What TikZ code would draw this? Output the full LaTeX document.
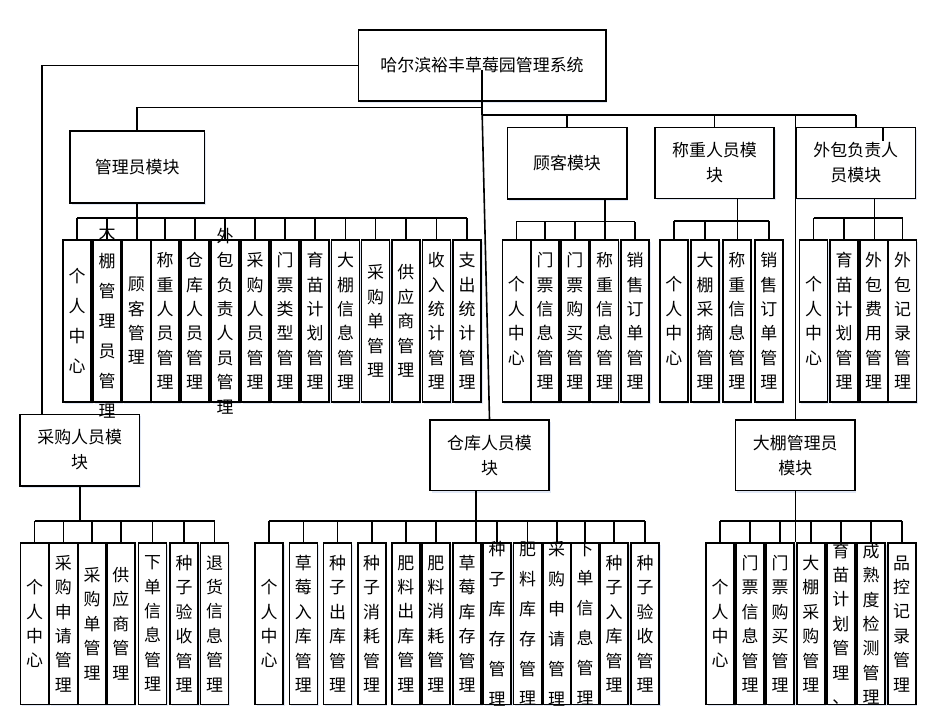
\documentclass[tikz,border=0pt]{standalone}
\usepackage{fontspec}
\setmainfont{Noto Sans CJK SC}
\usetikzlibrary{shadows}
\definecolor{shcol}{RGB}{196,210,238}
\tikzset{
  ln/.style={line width=1.6bp, draw=black},
  myshadow/.style={drop shadow={shadow xshift=1.5bp, shadow yshift=-2bp, fill=shcol, opacity=.5}},
  mbox/.style={draw, line width=1.6bp, fill=white, align=center, inner sep=0pt,
    font=\fontsize{17}{25}\selectfont, myshadow},
  kid/.style={draw, line width=1.6bp, fill=white, inner sep=0pt,
    minimum width=28bp, minimum height=161.5bp, myshadow},
  vt/.style={align=center, inner sep=0pt, font=\fontsize{17}{24.5}\selectfont},
  vtw/.style={align=center, inner sep=0pt, font=\fontsize{17}{30}\selectfont},
}
\newcommand\kidnode[4][vt]{\node[kid] (#2) at (#3) {}; \node[#1] at (#2) {#4};}
\begin{document}
\begin{tikzpicture}[x=1bp,y=-1bp]
\useasboundingbox (0,0) rectangle (947,715);

% ---------- module boxes ----------
\node[mbox, minimum width=247.4bp, minimum height=71bp] (root) at (482,65.5) {哈尔滨裕丰草莓园管理系统};
\node[mbox, minimum width=134.3bp, minimum height=71.7bp] (adm) at (137.2,166.9) {管理员模块};
\node[mbox, minimum width=119.4bp, minimum height=71.3bp] (cus) at (567,163.3) {顾客模块};
\node[mbox, minimum width=119bp, minimum height=70.6bp] (wei) at (714.5,163) {称重人员模\\块};
\node[mbox, minimum width=119.7bp, minimum height=70.6bp] (outs) at (855.8,163) {外包负责人\\员模块};
\node[mbox, minimum width=119.3bp, minimum height=71.4bp] (pur) at (79.7,450) {采购人员模\\块};
\node[mbox, minimum width=119bp, minimum height=70.7bp] (war) at (489.5,455.3) {仓库人员模\\块};
\node[mbox, minimum width=119.3bp, minimum height=70.7bp] (dap) at (795.3,455.3) {大棚管理员\\模块};

% ---------- admin children ----------
\kidnode[vtw]{a1}{77,321}{个\\人\\中\\心}
\kidnode[vtw]{a2}{107,321}{大\\棚\\管\\理\\员\\管\\理}
\kidnode{a3}{136.4,321}{顾\\客\\管\\理}
\kidnode{a4}{165.2,321}{称\\重\\人\\员\\管\\理}
\kidnode{a5}{194.7,321}{仓\\库\\人\\员\\管\\理}
\kidnode{a6}{225,321}{外\\包\\负\\责\\人\\员\\管\\理}
\kidnode{a7}{255,321}{采\\购\\人\\员\\管\\理}
\kidnode{a8}{285,321}{门\\票\\类\\型\\管\\理}
\kidnode{a9}{315,321}{育\\苗\\计\\划\\管\\理}
\kidnode{a10}{345.5,321}{大\\棚\\信\\息\\管\\理}
\kidnode{a11}{375.5,321}{采\\购\\单\\管\\理}
\kidnode{a12}{405.8,321}{供\\应\\商\\管\\理}
\kidnode{a13}{436.3,321}{收\\入\\统\\计\\管\\理}
\kidnode{a14}{467.2,321}{支\\出\\统\\计\\管\\理}

% ---------- customer children ----------
\kidnode{c1}{516.3,321}{个\\人\\中\\心}
\kidnode{c2}{545,321}{门\\票\\信\\息\\管\\理}
\kidnode{c3}{574.8,321}{门\\票\\购\\买\\管\\理}
\kidnode{c4}{604.5,321}{称\\重\\信\\息\\管\\理}
\kidnode{c5}{635,321}{销\\售\\订\\单\\管\\理}

% ---------- weighing children ----------
\kidnode{g1}{673.8,321}{个\\人\\中\\心}
\kidnode{g2}{705.2,321}{大\\棚\\采\\摘\\管\\理}
\kidnode{g3}{736.8,321}{称\\重\\信\\息\\管\\理}
\kidnode{g4}{768.8,321}{销\\售\\订\\单\\管\\理}

% ---------- outsourcing children ----------
\kidnode{o1}{813.5,321}{个\\人\\中\\心}
\kidnode{o2}{844.2,321}{育\\苗\\计\\划\\管\\理}
\kidnode{o3}{873.7,321}{外\\包\\费\\用\\管\\理}
\kidnode{o4}{902.5,321}{外\\包\\记\\录\\管\\理}

% ---------- purchasing children ----------
\kidnode{p1}{34.5,623.7}{个\\人\\中\\心}
\kidnode{p2}{63.3,623.7}{采\\购\\申\\请\\管\\理}
\kidnode{p3}{92,623.7}{采\\购\\单\\管\\理}
\kidnode{p4}{120.8,623.7}{供\\应\\商\\管\\理}
\kidnode{p5}{152.5,623.7}{下\\单\\信\\息\\管\\理}
\kidnode{p6}{184.2,623.7}{种\\子\\验\\收\\管\\理}
\kidnode{p7}{214.5,623.7}{退\\货\\信\\息\\管\\理}

% ---------- warehouse children ----------
\kidnode{w1}{269.2,623.7}{个\\人\\中\\心}
\kidnode{w2}{303.3,623.7}{草\\莓\\入\\库\\管\\理}
\kidnode{w3}{337.5,623.7}{种\\子\\出\\库\\管\\理}
\kidnode{w4}{371.7,623.7}{种\\子\\消\\耗\\管\\理}
\kidnode{w5}{405.8,623.7}{肥\\料\\出\\库\\管\\理}
\kidnode{w6}{435.8,623.7}{肥\\料\\消\\耗\\管\\理}
\kidnode{w7}{467,623.7}{草\\莓\\库\\存\\管\\理}
\kidnode[vtw]{w8}{497.2,623.7}{种\\子\\库\\存\\管\\理}
\kidnode[vtw]{w9}{527.5,623.7}{肥\\料\\库\\存\\管\\理}
\kidnode[vtw]{w10}{556.7,623.7}{采\\购\\申\\请\\管\\理}
\kidnode[vtw]{w11}{585,623.7}{下\\单\\信\\息\\管\\理}
\kidnode{w12}{614.2,623.7}{种\\子\\入\\库\\管\\理}
\kidnode{w13}{645,623.7}{种\\子\\验\\收\\管\\理}

% ---------- greenhouse children ----------
\kidnode{d1}{720,623.7}{个\\人\\中\\心}
\kidnode{d2}{750,623.7}{门\\票\\信\\息\\管\\理}
\kidnode{d3}{780.2,623.7}{门\\票\\购\\买\\管\\理}
\kidnode{d4}{810.8,623.7}{大\\棚\\采\\购\\管\\理}
\kidnode{d5}{840.8,623.7}{育\\苗\\计\\划\\管\\理\\、}
\kidnode{d6}{871.2,623.7}{成\\熟\\度\\检\\测\\管\\理}
\kidnode{d7}{901.7,623.7}{品\\控\\记\\录\\管\\理}

% ---------- levels ----------
\coordinate (LA) at (0,107.7);
\coordinate (LB) at (0,115);
\coordinate (admbus) at (0,218);
\coordinate (cusbus) at (0,221.5);
\coordinate (weibus) at (0,221);
\coordinate (outbus) at (0,218);
\coordinate (botbus) at (0,520.7);
\coordinate (rootin) at ([yshift=-4.5bp]root.center);
\coordinate (purin) at ([xshift=-38bp]pur.north);
\coordinate (cusout) at ([xshift=38bp]cus.south);
\coordinate (weiout) at ([xshift=22.8bp]wei.south);
\coordinate (outsout) at ([xshift=18.5bp]outs.south);
\coordinate (warout) at ([xshift=-13.8bp]war.south);

% ---------- root connectors ----------
\draw[ln] (root.west) -| (purin);
\draw[ln] (rootin) -- (rootin |- LB);
\draw[ln] (rootin |- LA) -| (adm.north);
\draw[ln] (rootin |- LA) -- (war.north);
\draw[ln] (rootin |- LB) -- (outs.north |- LB);
\foreach \n in {cus,wei,outs,dap} \draw[ln] (\n.north |- LB) -- (\n.north);
\draw[ln] ([xshift=27bp]outs.north) -- ++(0,14);

% ---------- admin connectors ----------
\draw[ln] (adm.south) -- (adm.south |- a3.north);
\draw[ln] (a1.north |- admbus) -- (a14.north |- admbus);
\foreach \i in {1,...,14} \draw[ln] (a\i.north) -- (a\i.north |- admbus);

% ---------- customer connectors ----------
\draw[ln] (cusout) -- (cusout |- c4.north);
\draw[ln] (c1.north |- cusbus) -- (c5.north |- cusbus);
\foreach \i in {1,...,5} \draw[ln] (c\i.north) -- (c\i.north |- cusbus);

% ---------- weighing connectors ----------
\draw[ln] (weiout) -- (weiout |- g3.north);
\draw[ln] (g1.north |- weibus) -- (g4.north |- weibus);
\foreach \i in {1,2,4} \draw[ln] (g\i.north) -- (g\i.north |- weibus);

% ---------- outsourcing connectors ----------
\draw[ln] (outsout) -- (outsout |- o3.north);
\draw[ln] (o1.north |- outbus) -- (o4.north |- outbus);
\foreach \i in {1,2,4} \draw[ln] (o\i.north) -- (o\i.north |- outbus);

% ---------- purchasing connectors ----------
\draw[ln] (pur.south) -- (pur.south |- botbus);
\draw[ln] (p1.north |- botbus) -- (p7.north |- botbus);
\foreach \i in {1,...,7} \draw[ln] (p\i.north) -- (p\i.north |- botbus);

% ---------- warehouse connectors ----------
\draw[ln] (warout) -- (warout |- w7.north);
\draw[ln] (w1.north |- botbus) -- (w13.north |- botbus);
\foreach \i in {1,...,6,8,9,10,11,12,13} \draw[ln] (w\i.north) -- (w\i.north |- botbus);

% ---------- greenhouse connectors ----------
\draw[ln] (dap.south) -- (dap.south |- d1.north);
\draw[ln] (d1.north |- botbus) -- (d7.north |- botbus);
\foreach \i in {1,...,7} \draw[ln] (d\i.north) -- (d\i.north |- botbus);
\end{tikzpicture}
\end{document}
